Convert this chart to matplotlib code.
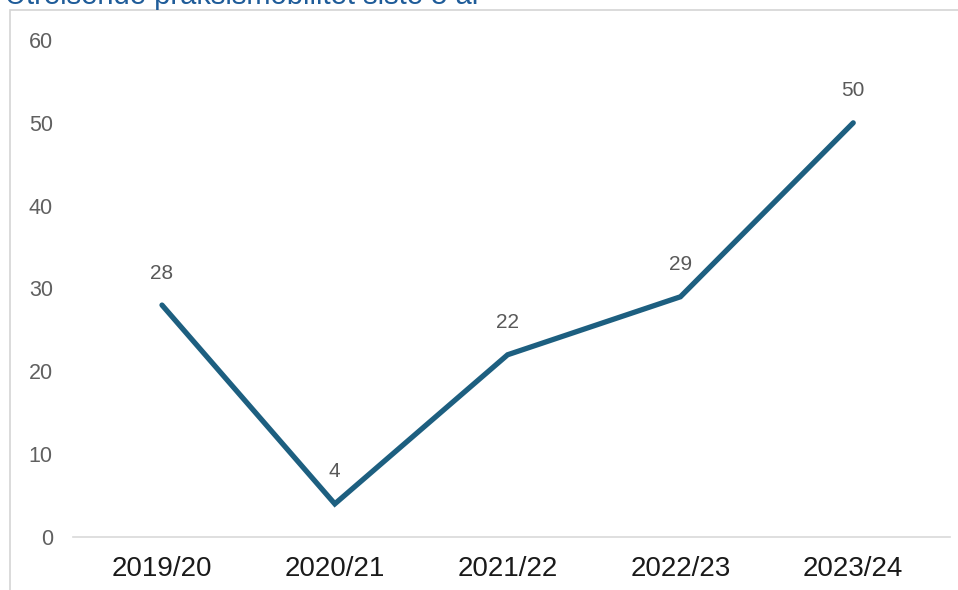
import matplotlib.pyplot as plt
from matplotlib.patches import Rectangle
from matplotlib.transforms import ScaledTranslation

seasons = ["2019/20", "2020/21", "2021/22", "2022/23", "2023/24"]
mobility = [28, 4, 22, 29, 50]
title = "Utreisende praksismobilitet siste 5 år"

fig = plt.figure(figsize=(9.58, 5.9), dpi=100)
ax = fig.add_axes([73 / 958, 53 / 590, (950 - 73) / 958, 497 / 590])

xs = list(range(len(seasons)))
ax.plot(xs, mobility, color="#1d5f80", linewidth=3.8, solid_capstyle="round",
        solid_joinstyle="miter")
for x, v in zip(xs, mobility):
    ax.annotate(str(v), (x, v), xytext=(0, 23), textcoords="offset points",
                ha="center", va="center", fontsize=15, color="#595959",
                family="Liberation Sans")

ax.set_xlim(-0.515, 4.56)
ax.set_ylim(0, 60)
ax.set_yticks(range(0, 61, 10))
ax.set_xticks(xs)
ax.set_xticklabels(seasons, fontsize=20, color="#1a1a1a",
                   family="Liberation Sans")
# the category labels sit on a slightly tighter spacing than the points
for i, lab in enumerate(ax.get_xticklabels()):
    dx = (20 - 6 * i) / 100
    lab.set_transform(lab.get_transform() +
                      ScaledTranslation(dx, 0, fig.dpi_scale_trans))
for lab in ax.get_yticklabels():
    lab.set_fontsize(15.5)
    lab.set_color("#606060")
    lab.set_family("Liberation Sans")
ax.tick_params(axis="y", length=0, pad=14.5)
ax.tick_params(axis="x", length=0, pad=14)
for s in ax.spines.values():
    s.set_visible(False)
ax.axhline(0, color="#d9d9d9", linewidth=1.2, clip_on=False)

# outer chart border
fig.patches.append(Rectangle((10 / 958, -0.1), 1.2, (580 / 590) + 0.1,
                             transform=fig.transFigure, fill=False,
                             edgecolor="#d4d4d4", linewidth=1.2))
fig.text(5 / 958, 1 - 4 / 590, title, ha="left", va="baseline",
         fontsize=21, color="#1f5c99", family="Liberation Sans")

fig.savefig("out.png", dpi=100)
